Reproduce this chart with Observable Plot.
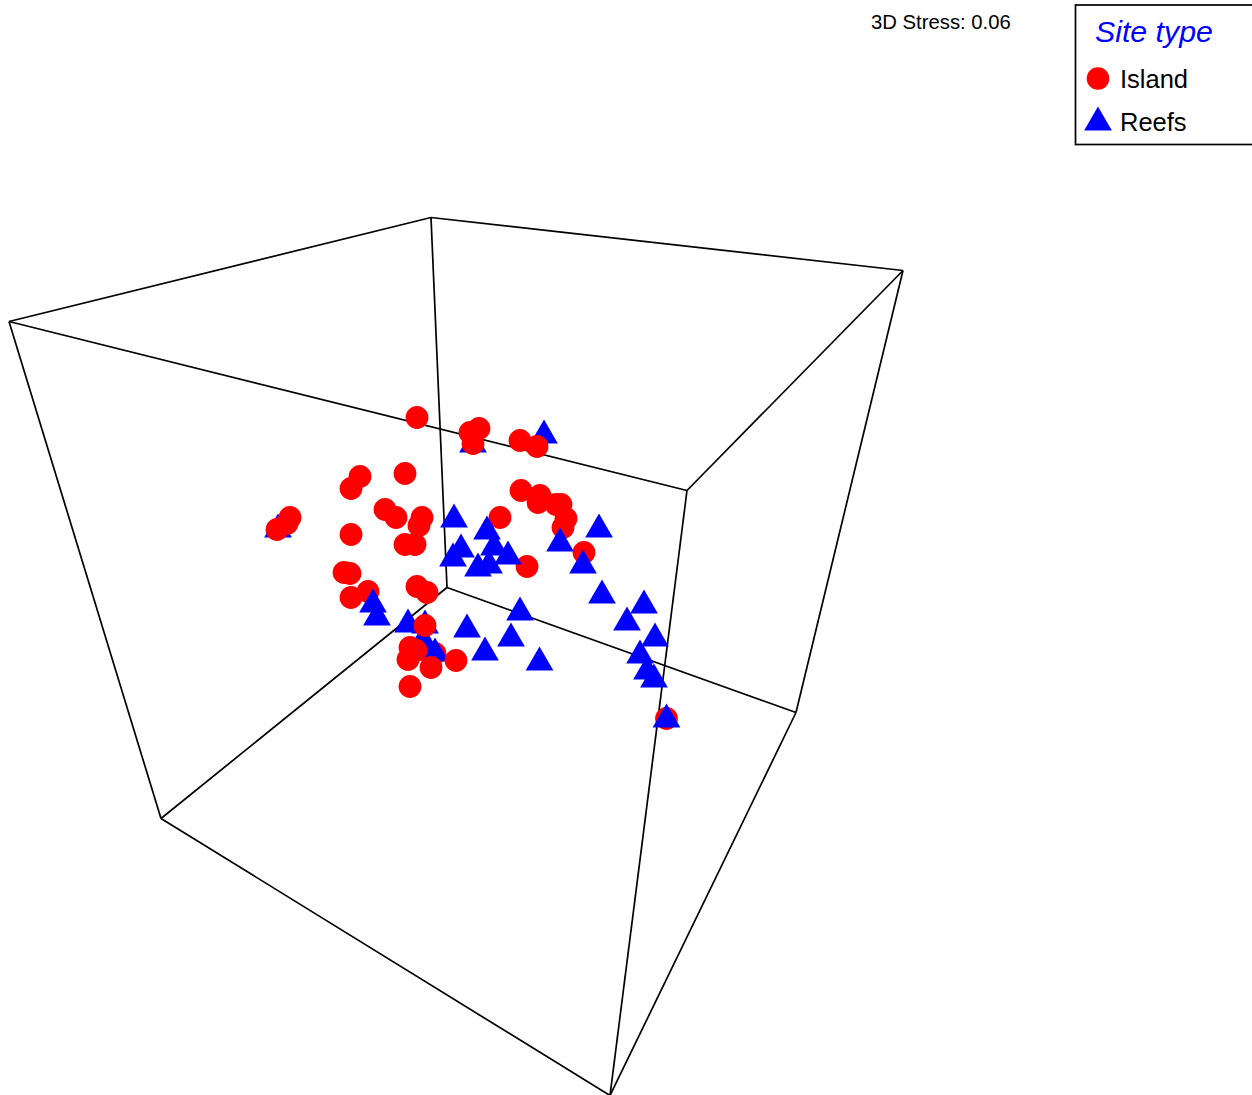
<!DOCTYPE html>
<html>
<head>
<meta charset="utf-8">
<script src="https://cdn.jsdelivr.net/npm/d3@7"></script>
<script src="https://cdn.jsdelivr.net/npm/@observablehq/plot@0.6"></script>
<style>
html,body{margin:0;padding:0;background:#fff;overflow:hidden}
svg{display:block}
</style>
</head>
<body>
<div id="chart"></div>
<script>
const vertices = {
  backTop:[431,217], rightTop:[903,270], leftTop:[9,321], frontTop:[687,490],
  backBottom:[447,587], rightBottom:[796,712], leftBottom:[161,818], frontBottom:[610,1095]
};
const edges = [
  ["backTop","rightTop"],["backTop","leftTop"],["rightTop","frontTop"],["leftTop","frontTop"],
  ["backTop","backBottom"],["frontTop","frontBottom"],["leftTop","leftBottom"],["rightTop","rightBottom"],
  ["backBottom","rightBottom"],["backBottom","leftBottom"],["leftBottom","frontBottom"],["rightBottom","frontBottom"]
];
// Ordination positions; split by the stacking seen in the picture
const islandBehind = [[435,653]];
const reefsBehind = [[278,529],[473,444],[544,435],[425,625],[423,640],[408,624],[435,653]];
const island = [
  [417,417],[479,428],[470,432],[473,443],[405,473],[360,476],[351,488],[385,509],[396,517],
  [422,517],[419,525],[351,534],[405,544],[415,544],[344,572],[350,573],[368,591],[351,597],
  [417,586],[427,592],[425,625],[410,647],[416,650],[408,659],[431,667],[456,660],
  [410,686],[290,517],[287,523],[277,529],[520,440],[537,446],[521,490],[540,495],[538,502],
  [556,504],[561,504],[566,518],[563,527],[500,517],[584,552],[527,566],[666.5,718]
];
const reefsFront = [
  [454,519],[487,531],[494,547],[508,556],[461,549],[453,558],[478,568],[489,565],[560,543],
  [599,529],[583,565],[602,595],[644,605],[627,622],[655,638],[640,655],[647,671],[654,679],
  [666.5,719],[520,612],[467,629],[511,638],[485,652],[539.5,662],[373,604],[377,617]
];
const legendIsland = {label:"Island", x:1098, y:78, ty:79};
const legendReefs = {label:"Reefs", x:1098, y:122, ty:122};
const stressLabel = "3D Stress: 0.06";
const legendTitle = "Site type";
const font = "Liberation Sans, Arial, sans-serif";
const red = "#ff0000", blue = "#0000ff";
const triR = 10.3, circleR = 11.4;

const plot = Plot.plot({
  width:1252, height:1095,
  marginTop:0, marginRight:0, marginBottom:0, marginLeft:0,
  style:{background:"#fff", fontFamily:font},
  x:{domain:[0,1252], range:[-0.5,1251.5], axis:null},
  y:{domain:[0,1095], range:[0,1095], axis:null},
  marks:[
    Plot.link(edges,{
      x1:d=>vertices[d[0]][0], y1:d=>vertices[d[0]][1],
      x2:d=>vertices[d[1]][0], y2:d=>vertices[d[1]][1],
      stroke:"#000", strokeWidth:1.7
    }),
    Plot.dot(islandBehind,{x:d=>d[0],y:d=>d[1],symbol:"circle",r:circleR,fill:red,stroke:"none"}),
    Plot.dot(reefsBehind,{x:d=>d[0],y:d=>d[1],symbol:"triangle",r:triR,fill:blue,stroke:"none"}),
    Plot.dot(island,{x:d=>d[0],y:d=>d[1],symbol:"circle",r:circleR,fill:red,stroke:"none"}),
    Plot.dot(reefsFront,{x:d=>d[0],y:d=>d[1],symbol:"triangle",r:triR,fill:blue,stroke:"none"}),
    Plot.text([stressLabel],{x:[871],y:[22],text:d=>d,textAnchor:"start",fontSize:20.3,fill:"#000"}),
    Plot.rect([1],{x1:[1076],x2:[1262],y1:[5],y2:[144.5],fill:"#fff",stroke:"#000",strokeWidth:1.7}),
    Plot.text([legendTitle],{x:[1095],y:[32],text:d=>d,textAnchor:"start",fontSize:30.3,fontStyle:"italic",fill:blue}),
    Plot.dot([legendIsland],{x:"x",y:"y",symbol:"circle",r:11.3,fill:red,stroke:"none"}),
    Plot.dot([legendReefs],{x:"x",y:"y",symbol:"triangle",r:triR,fill:blue,stroke:"none"}),
    Plot.text([legendIsland,legendReefs],{x:()=>1120,y:"ty",text:"label",textAnchor:"start",fontSize:25.5,fill:"#000"})
  ]
});
document.getElementById("chart").append(plot);
</script>
</body>
</html>
